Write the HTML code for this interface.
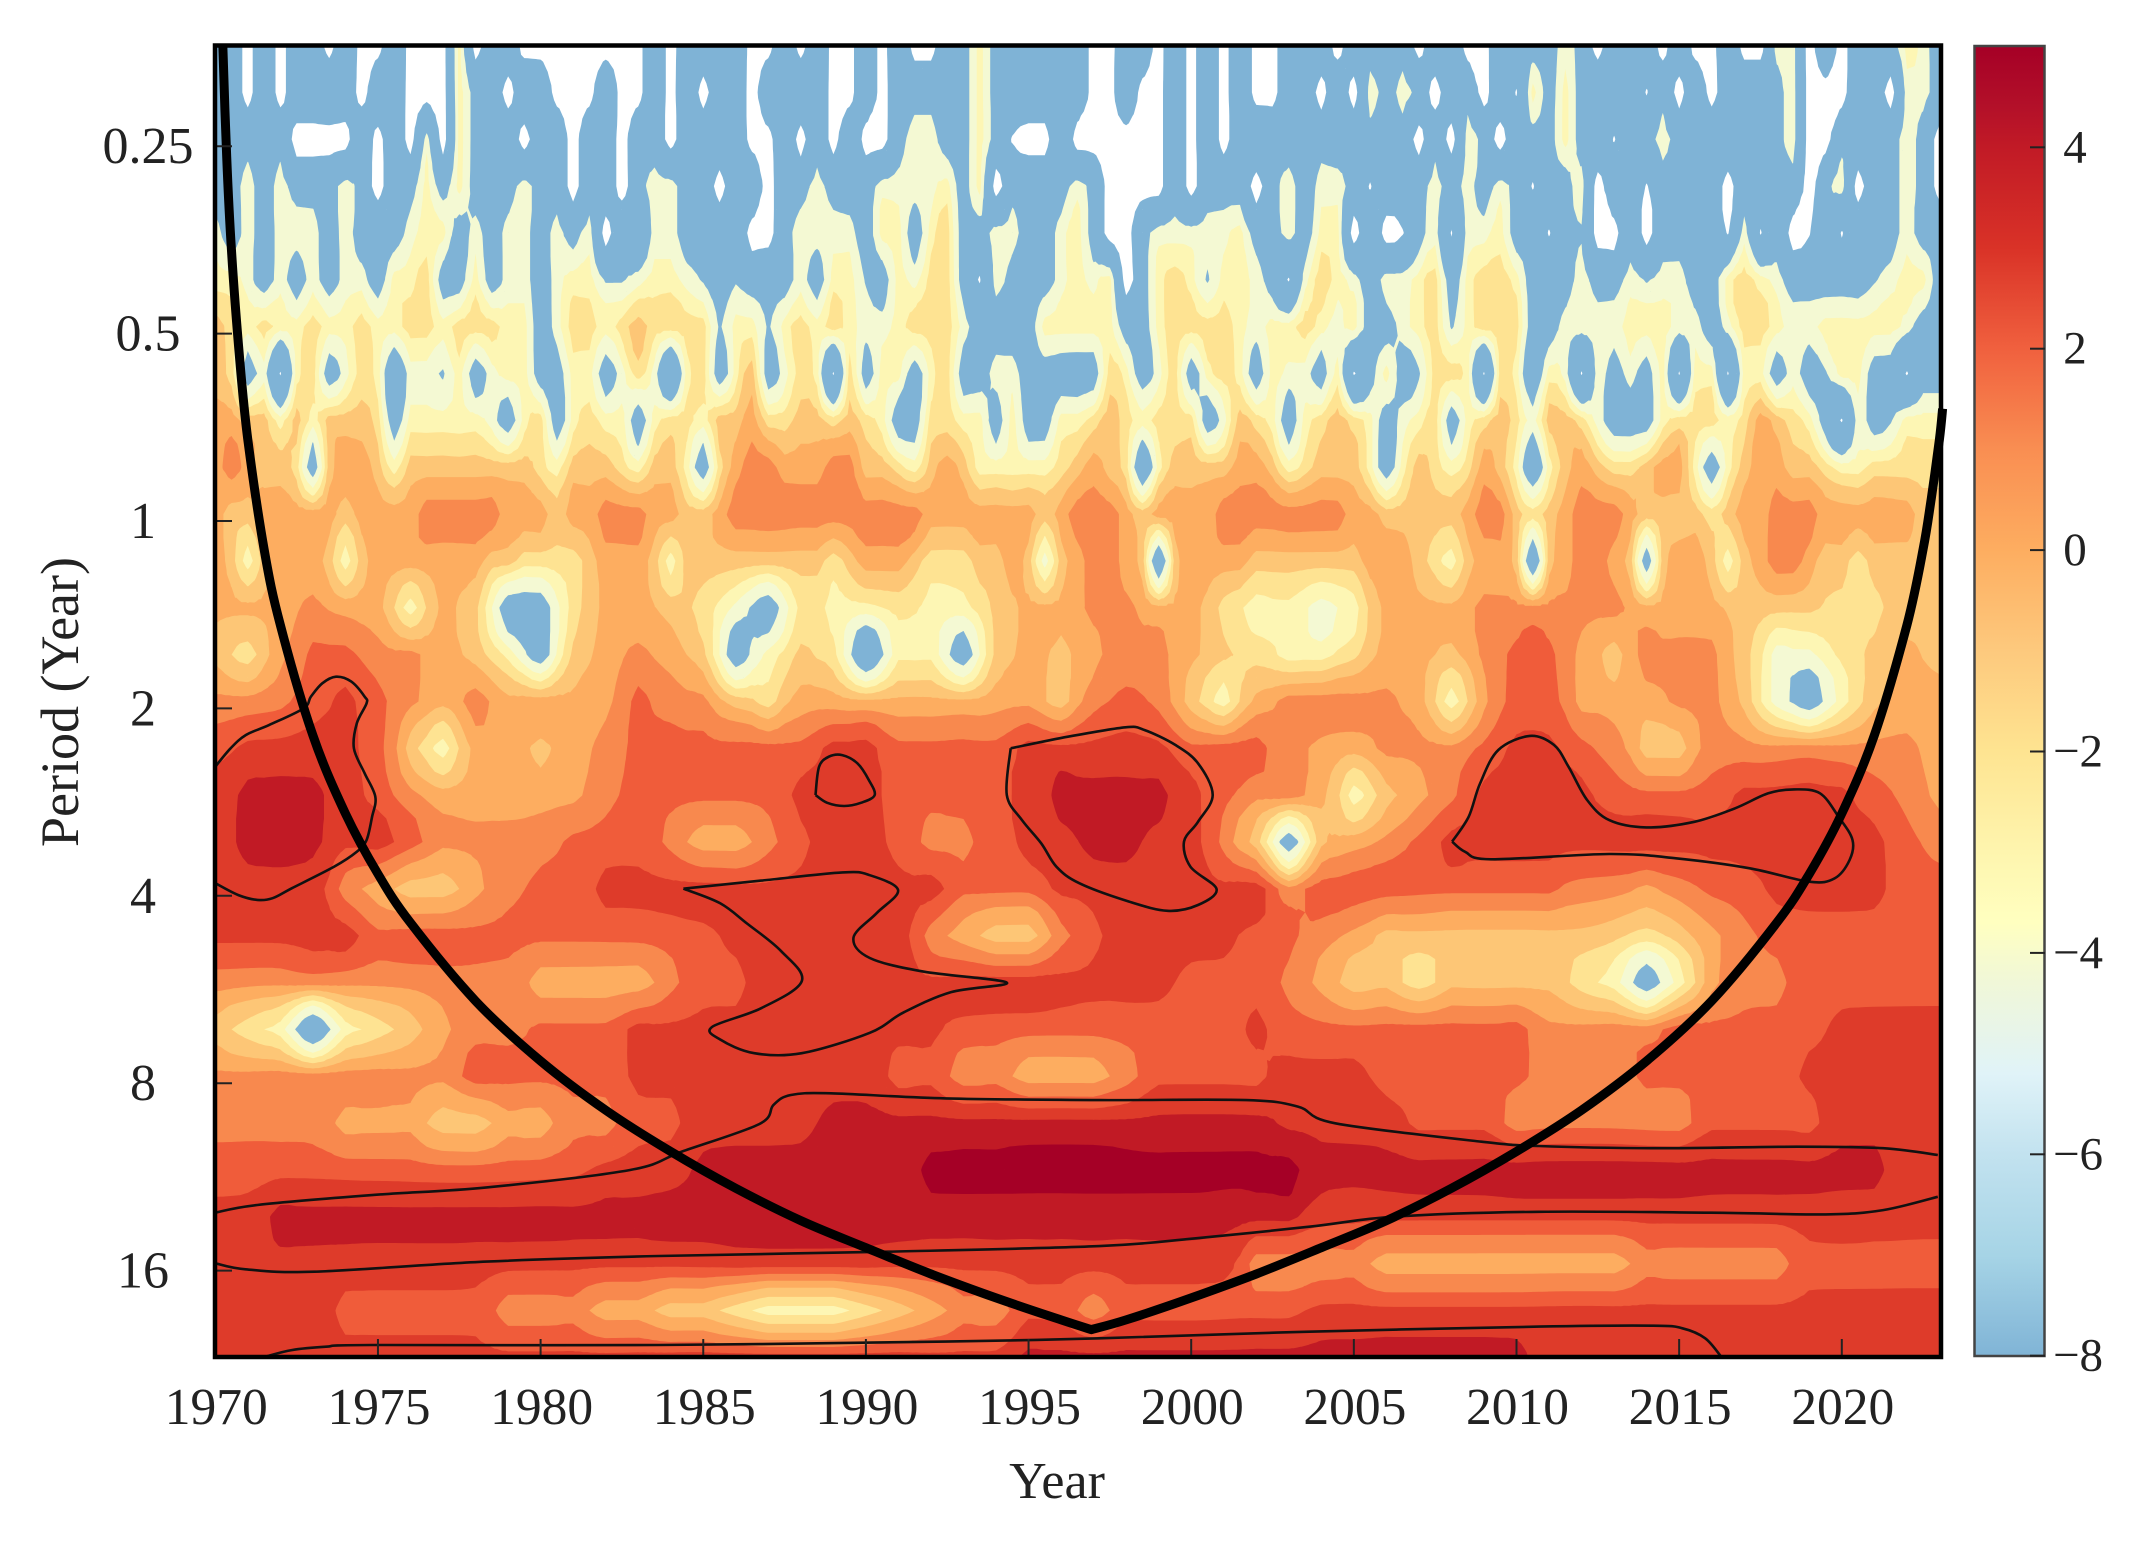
<!DOCTYPE html>
<html lang="en">
<head>
<meta charset="utf-8">
<title>Wavelet power spectrum</title>
<style>
html,body{margin:0;padding:0;background:#fff;}
svg{display:block;}
text{font-family:"Liberation Serif","DejaVu Serif",serif;fill:#222;}
</style>
</head>
<body>
<svg id="chart" xmlns="http://www.w3.org/2000/svg" width="2131" height="1546" viewBox="0 0 2131 1546">
<defs>
<clipPath id="plot-clip"><rect x="215" y="45" width="1726" height="1312"/></clipPath>
<linearGradient id="cbar-gradient" x1="0" y1="0" x2="0" y2="1"></linearGradient>
</defs>
<g id="bands" clip-path="url(#plot-clip)"></g>
<g id="sig" clip-path="url(#plot-clip)"></g>
<g id="coi"></g>
<g id="axes"></g>
<rect x="215" y="45.5" width="1726" height="1311.5" fill="none" stroke="#000" stroke-width="4.5"/>
<rect id="cbar" x="1974.5" y="46" width="70" height="1310" fill="url(#cbar-gradient)" stroke="#444" stroke-width="2.5"/>
<g id="cbarticks"></g>
<text x="1057" y="1498" font-size="52" text-anchor="middle">Year</text>
<text transform="translate(78,702) rotate(-90)" font-size="54" text-anchor="middle">Period (Year)</text>
</svg>
<script>
// ---- axis ticks ----
const xTickYears = [1970,1975,1980,1985,1990,1995,2000,2005,2010,2015,2020];
const yTickPeriods = [0.25,0.5,1,2,4,8,16];
const cbarTickValues = [4,2,0,-2,-4,-6,-8];

// ---- contour band values and colours ----
const bandThresholds = [-8.8,-4.8,-3.5,-2.5,-1.5,-0.5,0.5,1.5,2.5,3.5,4.5];
const bandColors = ["#7fb3d6","#f4f9d3","#fdf6b4","#fee392","#fdc676","#fdad60","#f8894e","#f05c3a","#de3b2a","#c11a25","#a50026"];
const cbarStopValues = [5,4.4,4,3,2,1,0,-1,-2,-3,-3.7,-4.3,-5.2,-6,-7,-8];
const cbarStopColors = ["#a50026","#b31029","#c11a26","#d93227","#f0603e","#f98e52","#fdad60","#fdc97d","#fee491","#fef5ae","#ffffc0","#f0f7d8","#e0f3f8","#c2e2ef","#a6d4e6","#80b4d6"];

// ---- power grid: rows are quarter-octave steps from the top of the plot ----
// rows 0-11 hold half-year columns (1970..2023), the remaining rows hold one-year columns
const powerRows = [
[-6,-6,-10,-6,-10,-6,-6,-10,-6,-10, -10,-6,-10,-10,-10,-3,-10,-6,-6,-10, -10,-10,-10,-10,-10,-10,-10,-6,-10,-6, -6,-6,-6,-10,-10,-6,-10,-6,-10,-10, -6,-10,-6,-10,-10,-6,-6,-3,-6,-6, -6,-6,-6,-6,-10,-10,-6,-6,-10,-6, -10,-6,-10,-6,-10,-10,-6,-6,-6,-10, -6,-6,-6,-6,-10,-6,-6,-10,-10,-6, -6,-6,-6,-4,-6,-10,-6,-6,-6,-10, -6,-10,-10,-6,-10,-10,-4,-4,-10,-6, -10,-6,-6,-6,-3,-4,-6],
[-6,-6,-10,-6,-10,-6,-6,-6,-6,-10, -6,-6,-10,-10,-10,-3,-6,-6,-10,-6, -6,-10,-10,-10,-6,-10,-10,-6,-10,-6, -10,-6,-6,-10,-6,-6,-6,-6,-10,-10, -6,-10,-6,-6,-6,-6,-6,-3,-6,-6, -6,-6,-6,-6,-10,-10,-6,-10,-10,-6, -10,-6,-10,-6,-10,-10,-6,-6,-10,-6, -10,-4,-6,-4,-6,-10,-6,-6,-10,-6, -9,-3,-6,-3,-6,-6,-6,-6,-9,-6, -10,-6,-10,-6,-6,-6,-6,-4,-10,-10, -10,-6,-6,-10,-4,-4,-6],
[-6,-6,-6,-6,-6,-10,-10,-10,-10,-6, -10,-6,-10,-4,-10,-3,-6,-6,-6,-10, -6,-6,-10,-6,-6,-10,-6,-6,-10,-6, -6,-6,-6,-10,-10,-6,-10,-6,-10,-6, -10,-10,-6,-4,-4,-6,-6,-3,-6,-9, -10,-10,-6,-10,-10,-10,-10,-10,-10,-6, -10,-6,-10,-6,-6,-6,-6,-6,-6,-6, -6,-6,-6,-6,-10,-6,-10,-4,-6,-10, -6,-6,-6,-3,-6,-6,-9,-6,-6,-4, -6,-6,-6,-6,-6,-6,-6,-4,-10,-10, -6,-6,-6,-6,-4,-6,-10],
[-6,-6,-4,-6,-4,-6,-6,-6,-4,-6, -10,-6,-6,-3,-6,-3,-6,-6,-6,-4, -6,-6,-10,-6,-6,-10,-6,-4,-4,-6, -6,-10,-6,-6,-10,-6,-6,-4,-6,-6, -6,-4,-4,-4,-4,-3,-6,-3,-10,-6, -6,-6,-6,-4,-6,-10,-10,-10,-10,-6, -10,-6,-6,-6,-10,-6,-4,-6,-4,-4, -6,-9,-6,-6,-6,-4,-6,-4,-6,-4, -6,-9,-6,-6,-4,-10,-6,-6,-9,-6, -6,-6,-6,-10,-6,-6,-6,-6,-10,-6, -4,-10,-6,-6,-4,-6,-10],
[-4,-6,-4,-6,-4,-4,-4,-6,-4,-6, -6,-6,-4,-3,-3,-6,-4,-6,-4,-4, -6,-4,-6,-4,-10,-6,-8,-4,-4,-6, -6,-6,-6,-10,-10,-6,-4,-4,-4,-4, -6,-3,-3,-6,-3,-2,-6,-6,-4,-4, -6,-6,-4,-3,-6,-10,-10,-6,-4,-4, -4,-4,-4,-3,-6,-6,-4,-6,-3,-3, -10,-6,-10,-9,-6,-4,-9,-4,-4,-3, -6,-6,-9,-6,-5,-10,-10,-6,-10,-6, -6,-6,-6,-9,-4,-9,-6,-10,-9,-6, -9,-6,-6,-6,-4,-6,-6],
[-3,-3,-4,-6,-4,-6,-4,-6,-4,-4, -6,-3,-3,-2,-6,-6,-3,-6,-4,-4, -6,-4,-3,-3,-5,-5,-4,-3,-3,-4, -5,-6,-5,-6,-6,-6,-4,-6,-3,-3, -5,-6,-3,-4,-2,-2,-6,-9,-4,-6, -6,-6,-4,-3,-4,-3,-10,-6,-3,-2, -3,-5,-3,-3,-4,-6,-9,-4,-2,-3, -4,-6,-4,-4,-3,-2,-6,-3,-2,-2, -3,-6,-6,-6,-4,-6,-6,-4,-5,-4, -4,-6,-6,-3,-2,-3,-4,-6,-6,-6, -6,-6,-5,-4,-3,-3,-6],
[-1,-2,-3,-2,-3,-3,-2,-3,-3,-2, -3,-3,-2,-2,-3,-2,-2,-2,-3,-3, -6,-4,-2,-2,-3,-2,-1,-2,-2,-2, -2,-5,-3,-3,-5,-3,-2,-3,-2,-3, -4,-4,-3,-2,-2,-2,-4,-6,-6,-6, -6,-3,-3,-3,-3,-3,-6,-6,-3,-2, -2,-2,-2,-3,-4,-3,-3,-2,-3,-4, -3,-6,-6,-4,-3,-2,-5,-3,-2,-2, -2,-6,-6,-4,-4,-4,-4,-3,-3,-3, -4,-4,-6,-4,-2,-2,-3,-4,-4,-3, -3,-3,-3,-3,-4,-6,-6],
[-1,-2,-6,-4,-9,-3,-2,-6,-4,-2, -3,-7,-4,-4,-5,-3,-6,-4,-3,-3, -6,-6,-3,-3,-6,-4,-2,-4,-8,-3, -2,-6,-3,-1,-6,-4,-2,-3,-9,-2, -6,-3,-3,-6,-3,-2,-6,-6,-4,-4, -6,-6,-6,-6,-6,-2,-3,-6,-4,-2, -6,-3,-2,-3,-6,-3,-4,-4,-6,-3, -9,-6,-3,-6,-5,-2,-2,-3,-9,-2, -3,-7,-3,-4,-9,-4,-6,-4,-6,-3, -9,-3,-3,-9,-3,-3,-6,-4,-6,-5, -3,-3,-6,-6,-9,-6,-6],
[0,0,-1,-1,-3,-1,-3,-1,-1,-1, -2,-6,-3,-3,-3,-3,-3,-4,-6,-3, -2,-6,-3,-2,-3,-3,-6,-3,-2,-2, -3,-1,-1,0,-2,-2,-1,-1,-2,-1, -2,-3,-6,-6,-2,-2,-3,-3,-6,-3, -6,-6,-3,-3,-2,-1,-2,-3,-2,-2, -2,-6,-4,-1,-2,-3,-6,-3,-2,-1, -2,-3,-6,-4,-3,-2,-6,-3,-2,-1, -2,-4,-1,-1,-2,-4,-6,-6,-6,-3, -2,-2,-2,-3,-2,0,-1,-2,-3,-6, -9,-4,-6,-5,-3,-3,-3],
[0,1,0,-1,-1,-2,-6,-1,0,0, -1,-3,-1,-1,-1,-1,-1,-1,-1,-1, -2,-3,-1,-1,-1,-2,-3,-1,-1,-3, -6,-2,0,1,1,0,0,0,1,1, -1,-1,-2,-3,-1,0,-1,-3,-3,-3, -3,-3,-2,-1,0,-1,-2,-7,-3,-1, -1,-1,-1,0,0,-1,-3,-2,-1,-1, -1,-3,-6,-3,-1,-2,-3,-2,0,-1, -3,-7,-3,-1,0,-1,-2,-2,-1,0, 0,-3,-6,-3,-1,0,0,-1,-1,-2, -3,-3,-2,-2,-2,-2,-2],
[0,-1,-1,0,0,0,0,0,-1,0, 0,0,0,1,1,1,1,1,0,0, 0,-1,0,0,1,1,1,0,0,-1, -1,0,1,1,1,1,1,1,1,1, 1,1,1,1,0,0,0,0,0,0, 0,-1,0,1,1,1,0,-1,0,0, 0,0,1,1,1,1,1,1,1,1, 0,0,-1,-1,-1,-1,-1,0,1,1, -1,-2,-1,0,1,1,1,0,-1,-1, -1,-1,-2,-1,0,0,1,1,1,0, 0,0,0,0,0,-1,-1],
[0,-1,-3,-1,0,0,0,-1,-3,-1, 0,0,0,0,0,0,0,-1,-1,-2, -2,-2,-2,-1,0,0,0,-1,-3,-1, -1,-1,-1,-1,-1,-1,-1,-1,-2,-1, 0,0,0,-1,-2,-2,-2,-1,-1,0, -1,-4,-1,0,1,1,0,-1,-7,-1, 0,0,0,0,-1,-1,-1,-1,-1,-1, -1,0,0,0,-1,-2,-3,-1,0,0, -1,-7,-1,0,1,1,0,-1,-6,-1, 0,0,-1,-3,-1,0,1,1,0,-1, -1,-2,-1,-1,-1,-1,-1],
[0,0,0,1,0,0,-3,0,-1,-6,-6,-2,0,0,-1,-2,-4,-6, -2,-3,-3,-2,-3,-3,-1,0,0,1,1,0,0,-2,-3,-3,-4,-3, 0,0,0,1,1,1,1,1,0,0,0,-1,-1,-1,-2,-2,-1,-1],
[-1,-2,0,2,2,1,1,0,-1,-3,-6,-1,0,1,0,-1,-6,-3, -1,-2,-7,-3,-3,-6,-1,0,-1,0,1,1,0,-1,-2,-3,-3,-2, 0,0,-1,1,2,2,0,-1,1,1,1,-1,-4,-4,-2,-1,0,-1],
[1,1,1,2,3,2,1,0,1,0,0,0,0,2,1,1,-1,-2, 0,0,0,0,0,0,0,0,-1,1,2,1,-1,-3,0,1,1,1, 1,0,-3,0,2,2,0,0,0,1,1,-1,-4,-6,-3,-1,0,0],
[2,3,3,3,3,2,-1,-3,0,0,-1,0,1,2,2,2,2,2, 2,3,3,2,2,2,2,3,3,3,3,3,2,2,2,1,0,0, 1,1,1,2,3,3,2,1,-1,-1,1,1,1,1,1,1,1,0],
[3,4,4,4,3,2,1,0,0,0,0,0,1,2,2,2,2,2, 3,3,3,2,2,2,2,3,4,4,4,4,3,2,1,1,0,-3, -1,0,1,3,3,3,3,2,2,2,2,3,3,3,3,2,1,0],
[3,4,4,4,3,3,2,1,1,1,1,2,2,2,1,0,0,1, 2,3,3,2,1,1,2,3,3,4,4,3,3,1,-1,-6,-1,0, 1,2,3,3,3,3,3,3,3,3,3,3,3,3,3,3,2,1],
[3,3,3,3,1,0,-1,-1,0,1,2,2,3,3,3,3,3,3, 3,3,3,3,3,2,2,2,3,3,3,3,3,3,3,1,2,2, 2,2,2,2,2,2,1,1,0,1,2,2,3,3,3,3,2,2],
[3,3,3,3,3,2,2,2,2,2,2,2,2,2,2,2,3,3, 3,3,3,3,1,0,-1,-1,1,2,3,3,3,3,2,2,1,0, -1,-1,-1,-1,-1,-1,-1,-1,-2,-1,0,1,2,2,2,2,2,2],
[1,1,1,1,1,1,1,1,1,1,0,0,0,0,1,2,2,3,3,3,3,3,3,3,3,3,3, 3,3,3,2,2,2,1,0,-1,-1,-2,-1,-1,-1,-1,-2,-3,-6,-3,0,1,1,2,2,2,2,2],
[-1,-2,-3,-7,-3,-2,-1,0,1,1,2,2,2,3,3,3,3,3,3,3,3,3,3,2,2,2,2,2, 2,2,2,2,3,2,2,2,2,2,2,2,2,1,1,1,1,2,2,2,2,2,3,3,3,3],
[1,1,1,1,1,1,1,1,2,2,2,2,2,3,3,3,3,3,3,3,3,2,2,1,1,0,0,0, 1,2,2,2,2,3,3,3,2,2,2,2,2,1,1,1,2,2,2,2,2,3,3,3,3,3],
[1,1,1,1,0,0,0,-1,-1,0,0,1,1,2,2,3,3,3,3,4,4,4,4,4,4,4,4, 4,4,4,4,4,4,3,3,3,3,2,2,2,1,1,1,1,1,1,2,2,2,2,3,3,3,3],
[2,2,2,2,2,2,2,2,2,2,2,2,3,3,3,4,4,4,4,4,4,4,5,5,5,5,5,5,5,5,5,5,5,5,4,4,4,4,4,4,4,4,4,4,4,4,4,4,4,4,4,4,3,3],
[3,3,4,4,4,4,4,4,4,4,4,4,4,4,4,4,4,4,4,4,4,4,4,4,4,4,4,4,4,4,4,4,4,4,3,3,3,3,3,3,3,3,3,3,3,3,3,3,3,3,3,3,3,3],
[3,3,3,3,3,3,3,3,3,3,3,3,3,3,3,3,3,3,3,3,3,3,3,3,3,3,3,3,3,3,3,3,1,1,1,1,0,0,0,0,0,0,0,0,1,1,1,1,1,2,2,2,2,2],
[3,3,3,3,2,2,2,2,2,1,1,1,0,0,-1,-1,-2,-3,-3,-3,-2,-1,0,1,1,2,2,1, 2,2,2,2,2,2,3,3,3,3,3,3,3,3,3,3,3,3,3,3,3,3,3,3,3,3],
[3,3,3,3,3,3,3,3,3,3,3,3,3,3,3,3,3,3,3,3,3,3,3,3,3,4,4,4,4,4,4,4,4,4,4,4,4,4,4,4,4,3,3,3,3,3,3,3,3,3,3,3,3,3]
];

// ---- cone of influence ----
const coiYears = [1970.23,1970.35,1970.5,1970.75,1971,1971.5,1972,1973,1974,1975,1976,1978,1980,1982,1984,1986,1988,1990,1992,1994,1996,1996.93,1998,2000,2002,2004,2006,2008,2010,2012,2014,2016,2018,2019,2020,2021,2022,2022.5,2022.75,2023,2023.1];
const coiPeriods = [0.17,0.26,0.37,0.55,0.74,1.11,1.47,2.21,2.95,3.69,4.42,5.9,7.37,8.84,10.3,11.8,13.3,14.7,16.2,17.7,19.2,19.9,19.2,17.7,16.2,14.7,13.3,11.8,10.3,8.84,7.37,5.9,4.42,3.69,2.95,2.21,1.47,1.11,0.92,0.74,0.66];

// ---- significance contours: years and log2(period) ----
const sigYears1 = [1970,1970.47,1970.94,1971.65,1972.71,1972.94,1973.29,1973.71,1974.18,1974.59,1974.65,1974.35,1974.26,1974.59,1974.92,1974.82,1974.65,1974.35,1973.65,1972.35,1971.76,1971.29,1970.71,1970];
const sigOct1 = [1.311,1.213,1.142,1.089,1.0,0.937,0.866,0.831,0.857,0.937,0.973,1.08,1.213,1.346,1.471,1.578,1.702,1.765,1.845,1.96,2.013,2.022,1.996,1.933];
const sigYears2 = [1984.39,1986.78,1989.28,1990.12,1990.99,1990.33,1989.62,1990.12,1991.79,1994.33,1992.62,1991.16,1990.12,1988.03,1986.57,1985.52,1985.27,1986.78,1988.03,1987.4,1986.36,1985.52,1984.39];
const sigOct2 = [1.962,1.919,1.875,1.89,1.97,2.093,2.223,2.332,2.405,2.463,2.514,2.622,2.731,2.84,2.84,2.767,2.7,2.6,2.455,2.296,2.15,2.04,1.962];
const sigYears3 = [1988.45,1988.56,1988.86,1989.27,1989.74,1990.09,1990.27,1989.86,1989.33,1988.8,1988.45];
const sigOct3 = [1.462,1.311,1.258,1.249,1.293,1.382,1.462,1.503,1.521,1.503,1.462];
const sigYears4 = [1994.45,1996.21,1997.98,1998.56,1999.51,2000.21,2000.66,2000.21,1999.78,1999.98,2000.78,2000.21,1999.27,1998.09,1996.56,1995.86,1995.39,1994.8,1994.33,1994.45];
const sigOct4 = [1.213,1.151,1.101,1.115,1.195,1.293,1.462,1.605,1.711,1.845,1.965,2.049,2.08,2.031,1.933,1.845,1.72,1.596,1.462,1.213];
const sigYears5 = [2008.02,2008.53,2008.88,2009.44,2010.41,2011.15,2011.6,2012.17,2012.85,2013.99,2015.47,2016.72,2017.74,2018.53,2019.33,2019.9,2020.33,2020.24,2019.78,2018.99,2017.17,2014.9,2012.85,2009.22,2008.42,2008.02];
const sigOct5 = [1.711,1.578,1.4,1.222,1.147,1.195,1.311,1.489,1.596,1.635,1.605,1.533,1.453,1.432,1.453,1.578,1.702,1.809,1.907,1.925,1.853,1.8,1.777,1.805,1.765,1.711];
const sigYears6 = [1970,1971.29,1974.81,1978.34,1982.75,1984.34,1986.72,1987.16,1987.69,1988.92,1992.45,1997.18,2001.69,2003.28,2004.43,2008.92,2010.69,2014.21,2018.62,2021.27,2022.95];
const sigOct6 = [3.691,3.65,3.597,3.556,3.463,3.365,3.218,3.116,3.063,3.054,3.081,3.09,3.09,3.125,3.214,3.312,3.335,3.347,3.339,3.347,3.383];
const sigYears7 = [1970,1970.93,1973.05,1978.34,1983.63,1990.69,1997.18,2000.1,2003.63,2006.28,2010.69,2015.98,2019.5,2021.27,2022.95];
const sigOct7 = [3.961,3.993,4.006,3.952,3.922,3.899,3.869,3.828,3.766,3.712,3.686,3.691,3.7,3.677,3.606];
const sigYears8 = [1971.55,1972.35,1973.4,1974.81,1983.63,1992.45,1997.18,2003.63,2010.69,2014.21,2015.1,2015.8,2016.29];
const sigOct8 = [4.459,4.424,4.406,4.397,4.397,4.379,4.361,4.326,4.299,4.294,4.308,4.361,4.459];

const SVGNS = "http://www.w3.org/2000/svg";
function xOf(year){ return 215.3 + 32.53 * (year - 1970); }
function yOct(oct){ return 521 + 187.4 * oct; }
function yOf(period){ return yOct(Math.log2(period)); }
function cbarY(v){ return 46.6 + (5 - v) * 100.7; }
function rowOct(k){ return -2.537 + 0.25 * k; }
function colYear(j){ return 1970 + 0.5 * j; }
function make(tag, parent){ const el = document.createElementNS(SVGNS, tag); parent.appendChild(el); return el; }

// value at row k, half-year column j
function gridValue(k, j){
  const row = powerRows[k];
  if (row.length >= 100) return row[Math.min(j, row.length - 1)];
  const a = Math.min(Math.floor(j / 2), row.length - 1);
  const b = Math.min(Math.ceil(j / 2), row.length - 1);
  return (row[a] + row[b]) / 2;
}

// rendering field: softens the staircase of the smooth lower rows, keeps sharp peaks
function softField(){
  const nRows = powerRows.length, nCols = 107, out = [];
  const hk = [1,2,3,2,1], vk = [1,2,1];
  for (let k = 0; k < nRows; k++){
    const line = [];
    for (let j = 0; j < nCols; j++){
      const orig = gridValue(k, j);
      if (k < 12){ line.push(orig); continue; }
      let sum = 0, w = 0;
      for (let a = -1; a <= 1; a++){
        const kk = Math.max(0, Math.min(nRows - 1, k + a));
        for (let b = -2; b <= 2; b++){
          const jj = Math.max(0, Math.min(nCols - 1, j + b));
          const wt = vk[a + 1] * hk[b + 2];
          sum += wt * gridValue(kk, jj); w += wt;
        }
      }
      const blur = sum / w, d = orig - blur, ad = Math.abs(d);
      line.push(ad >= 1 ? orig : blur + d * ad);
    }
    out.push(line);
  }
  return out;
}

function cr(a, b, c, d){
  const v = 0.5 * (b + c) + (b + c - a - d) / 16;
  return Math.max(Math.min(b, c), Math.min(Math.max(b, c), v));
}

// doubles the grid resolution in both directions
function refine(field){
  const rows = field.length, cols = field[0].length;
  const wide = field.map(function(r){
    const o = [];
    for (let j = 0; j < cols; j++){
      o.push(r[j]);
      if (j < cols - 1) o.push(cr(r[Math.max(0, j - 1)], r[j], r[j + 1], r[Math.min(cols - 1, j + 2)]));
    }
    return o;
  });
  const out = [];
  for (let k = 0; k < rows; k++){
    out.push(wide[k]);
    if (k < rows - 1){
      const a = wide[Math.max(0, k - 1)], b = wide[k], c = wide[k + 1], d = wide[Math.min(rows - 1, k + 2)];
      out.push(b.map(function(_, j){ return cr(a[j], b[j], c[j], d[j]); }));
    }
  }
  return out;
}

function clipTri(tri, t){
  const out = [];
  for (let i = 0; i < tri.length; i++){
    const p = tri[i], q = tri[(i + 1) % tri.length];
    const pin = p[2] >= t, qin = q[2] >= t;
    if (pin) out.push(p);
    if (pin !== qin){
      const f = (t - p[2]) / (q[2] - p[2]);
      out.push([p[0] + (q[0] - p[0]) * f, p[1] + (q[1] - p[1]) * f, t]);
    }
  }
  return out;
}

function drawBands(){
  const g = document.getElementById("bands");
  const F = refine(softField());
  const nRows = F.length, nCols = F[0].length;
  const bg = make("rect", g);
  
  
  bg.setAttribute("x", 215); bg.setAttribute("y", 45); bg.setAttribute("width", 1726); bg.setAttribute("height", 1312);
  bg.setAttribute("fill", "#fff");
  bandThresholds.forEach(function(t, li){
    const parts = [];
    for (let k = 0; k < nRows - 1; k++){
      const y0 = yOct(rowOct(k / 2)), y1 = yOct(rowOct((k + 1) / 2));
      let run = -1;
      const flush = function(endJ){
        if (run < 0) return;
        parts.push("M" + xOf(colYear(run / 2)).toFixed(1) + " " + y0.toFixed(1) + "H" + xOf(colYear(endJ / 2)).toFixed(1) + "V" + y1.toFixed(1) + "H" + xOf(colYear(run / 2)).toFixed(1) + "Z");
        run = -1;
      };
      for (let j = 0; j < nCols - 1; j++){
        const a = F[k][j], b = F[k][j + 1], c = F[k + 1][j + 1], d = F[k + 1][j];
        if (a >= t && b >= t && c >= t && d >= t){
          if (run < 0) run = j;
          continue;
        }
        flush(j);
        if (a < t && b < t && c < t && d < t) continue;
        const x0 = xOf(colYear(j / 2)), x1 = xOf(colYear((j + 1) / 2));
        const m = [(x0 + x1) / 2, (y0 + y1) / 2, (a + b + c + d) / 4];
        const A = [x0, y0, a], B = [x1, y0, b], C = [x1, y1, c], D = [x0, y1, d];
        [[A, B, m], [B, C, m], [C, D, m], [D, A, m]].forEach(function(tri){
          const poly = clipTri(tri, t);
          if (poly.length < 3) return;
          parts.push("M" + poly.map(function(p){ return p[0].toFixed(1) + " " + p[1].toFixed(1); }).join("L") + "Z");
        });
      }
      flush(nCols - 1);
    }
    const path = make("path", g);
    
    
    path.setAttribute("d", parts.join(""));
    path.setAttribute("fill", bandColors[li]);
    path.setAttribute("stroke", "#0000");
  });
}

function smoothPath(xs, ys){
  const n = xs.length;
  let d = "M" + xs[0].toFixed(1) + " " + ys[0].toFixed(1);
  for (let i = 0; i < n - 1; i++){
    const i0 = Math.max(0, i - 1), i3 = Math.min(n - 1, i + 2);
    const c1x = xs[i] + (xs[i + 1] - xs[i0]) / 6, c1y = ys[i] + (ys[i + 1] - ys[i0]) / 6;
    const c2x = xs[i + 1] - (xs[i3] - xs[i]) / 6, c2y = ys[i + 1] - (ys[i3] - ys[i]) / 6;
    d += "C" + c1x.toFixed(1) + " " + c1y.toFixed(1) + " " + c2x.toFixed(1) + " " + c2y.toFixed(1) + " " + xs[i + 1].toFixed(1) + " " + ys[i + 1].toFixed(1);
  }
  return d;
}

function drawSig(){
  const g = document.getElementById("sig");
  const sets = [[sigYears1, sigOct1],[sigYears2, sigOct2],[sigYears3, sigOct3],[sigYears4, sigOct4],[sigYears5, sigOct5],[sigYears6, sigOct6],[sigYears7, sigOct7],[sigYears8, sigOct8]];
  sets.forEach(function(s){
    const p = make("path", g);
    
    
    p.setAttribute("d", smoothPath(s[0].map(xOf), s[1].map(yOct)));
    p.setAttribute("fill", "none");
    p.setAttribute("stroke", "#111");
    p.setAttribute("stroke-width", "2.6");
    p.setAttribute("stroke-linejoin", "round");
  });
}

function drawCoi(){
  const g = document.getElementById("coi");
  let apex = 0;
  coiPeriods.forEach(function(v, i){ if (v > coiPeriods[apex]) apex = i; });
  const xs = coiYears.map(xOf);
  const ys = coiPeriods.map(function(v){ return Math.max(45, yOf(v)); });
  const d = smoothPath(xs.slice(0, apex + 1), ys.slice(0, apex + 1)) +
    smoothPath(xs.slice(apex), ys.slice(apex)).replace(/^M[^C]*/, "");
  const p = make("path", g);
  
  
  p.setAttribute("d", d);
  p.setAttribute("fill", "none");
  p.setAttribute("stroke", "#000");
  p.setAttribute("stroke-width", "9");
  p.setAttribute("stroke-linejoin", "miter");
}

function drawAxes(){
  const g = document.getElementById("axes");
  xTickYears.forEach(function(year){
    const x = xOf(year);
    const t = make("line", g);
    
    
    t.setAttribute("x1", x); t.setAttribute("x2", x); t.setAttribute("y1", 1357); t.setAttribute("y2", 1339);
    t.setAttribute("stroke", "#222"); t.setAttribute("stroke-width", "2");
    const l = make("text", g);
    
    
    l.setAttribute("x", x + 1); l.setAttribute("y", 1424);
    l.setAttribute("font-size", "51.5"); l.setAttribute("text-anchor", "middle");
    l.textContent = String(year);
  });
  yTickPeriods.forEach(function(period){
    const y = yOf(period);
    const t = make("line", g);
    
    
    t.setAttribute("x1", 215); t.setAttribute("x2", 232); t.setAttribute("y1", y); t.setAttribute("y2", y);
    t.setAttribute("stroke", "#222"); t.setAttribute("stroke-width", "2");
    const l = make("text", g);
    
    
    l.setAttribute("x", period < 1 ? 148 : 143); l.setAttribute("y", y + 17);
    l.setAttribute("font-size", "52"); l.setAttribute("text-anchor", "middle");
    l.textContent = String(period);
  });
}

function drawCbar(){
  const grad = document.getElementById("cbar-gradient");
  cbarStopValues.forEach(function(v, i){
    const s = make("stop", grad);
    s.setAttribute("offset", ((5 - v) / 13).toFixed(4));
    s.setAttribute("stop-color", cbarStopColors[i]);
  });
  const g = document.getElementById("cbarticks");
  cbarTickValues.forEach(function(v){
    const y = cbarY(v);
    const t = make("line", g);
    
    
    t.setAttribute("x1", 2030); t.setAttribute("x2", 2045); t.setAttribute("y1", y); t.setAttribute("y2", y);
    t.setAttribute("stroke", "#222"); t.setAttribute("stroke-width", "2");
    const l = make("text", g);
    
    
    l.setAttribute("x", v < 0 ? 2078 : 2075); l.setAttribute("y", y + 15);
    l.setAttribute("font-size", "47"); l.setAttribute("text-anchor", "middle");
    l.textContent = v < 0 ? "\u2212" + Math.abs(v) : String(v);
  });
}

drawBands();
drawSig();
drawCoi();
drawAxes();
drawCbar();
</script>
</body>
</html>
